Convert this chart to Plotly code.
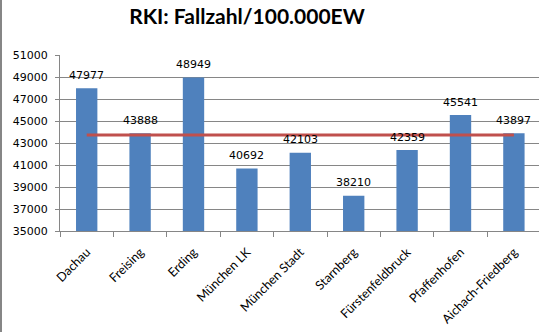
import plotly.graph_objects as go

categories = ["Dachau", "Freising", "Erding", "München LK", "München Stadt",
              "Starnberg", "Fürstenfeldbruck", "Pfaffenhofen", "Aichach-Friedberg"]
values = [47977, 43888, 48949, 40692, 42103, 38210, 42359, 45541, 43897]
average_value = 43735
average_line = [average_value] * len(categories)
y_ticks = [35000, 37000, 39000, 41000, 43000, 45000, 47000, 49000, 51000]

W, H = 539, 332
L, R, T, B = 60, 0, 55, 101
plot_w = W - L - R

fig = go.Figure()
fig.add_trace(go.Bar(
    x=categories, y=values, width=0.4,
    marker=dict(color="#4F81BD", line=dict(width=0)),
    showlegend=False,
))
fig.add_trace(go.Scatter(
    x=categories, y=average_line, mode="lines",
    line=dict(color="#C0504D", width=3), showlegend=False,
))

annotations = [
    dict(x=c, y=v, xref="x", yref="y", text=str(v), showarrow=False,
         yshift=13, yanchor="middle", xanchor="center",
         font=dict(family="DejaVu Sans", size=11, color="#000000"))
    for c, v in zip(categories, values)
]

fig.update_layout(
    width=W, height=H,
    margin=dict(l=L, r=R, t=T, b=B, pad=0),
    paper_bgcolor="white", plot_bgcolor="white",
    title=dict(text="<b>RKI: Fallzahl/100.000EW</b>", x=247 / W, xanchor="center",
               y=1 - 17 / H, yanchor="middle",
               font=dict(family="Lato", size=21, color="#000000")),
    bargap=0.6,
    annotations=annotations,
    shapes=[dict(type="line", xref="paper", yref="paper",
                 x0=-(L - 1) / plot_w, x1=-(L - 1) / plot_w, y0=-B / (H - T - B), y1=(H - T) / (H - T - B),
                 line=dict(color="#868686", width=2))],
)
fig.update_xaxes(
    type="category", range=[-0.5, 8.47], tickangle=-45,
    tickfont=dict(family="Lato", size=12.5, color="#000000"),
    showline=True, linecolor="#868686", linewidth=1,
    ticks="outside", tickson="boundaries", ticklen=5, tickcolor="#868686",
    ticklabelstandoff=8,
    showgrid=False, automargin=False,
)
fig.update_yaxes(
    range=[35000, 51000], tickvals=y_ticks, ticktext=[str(v) for v in y_ticks],
    tickfont=dict(family="DejaVu Sans", size=11, color="#000000"),
    showline=True, linecolor="#868686", linewidth=1,
    ticks="outside", ticklen=4, tickcolor="#868686",
    ticklabelstandoff=5,
    showgrid=True, gridcolor="#868686", gridwidth=1, zeroline=False,
    automargin=False,
)

fig.write_html("out.html")
